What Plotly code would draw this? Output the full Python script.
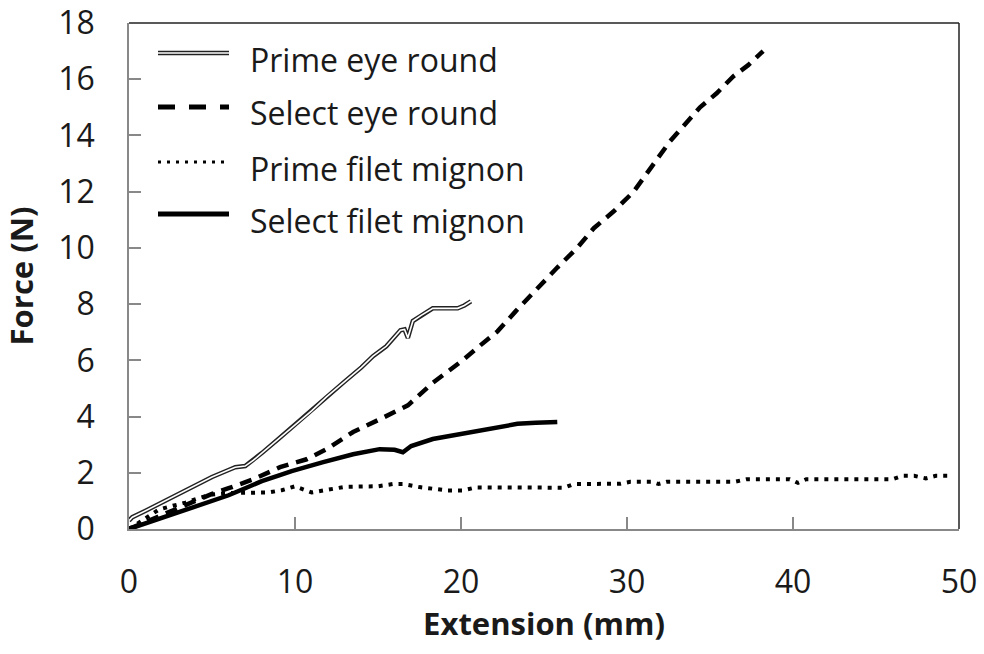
import plotly.graph_objects as go

# ---------------- data ----------------
prime_eye_x = [0, 0.2, 1, 2, 3, 4, 5, 6, 6.4, 7.0, 7.5, 8, 9, 9.9, 11, 11.9, 13, 14, 14.7,
               15.5, 16.35, 16.6, 16.8, 17.1, 17.6, 18.3, 19.8, 20.2, 20.6]
prime_eye_y = [0.3, 0.42, 0.65, 0.95, 1.25, 1.55, 1.85, 2.1, 2.2, 2.24, 2.45, 2.7, 3.2, 3.67,
               4.2, 4.7, 5.25, 5.75, 6.15, 6.5, 7.07, 7.1, 6.8, 7.4, 7.6, 7.85, 7.85, 7.95, 8.1]

select_eye_x = [0, 1, 2, 3, 4, 5, 6, 7.5, 9.1, 10.7, 11.9, 13.5, 15.1, 16.8, 18.3, 20.1, 21.2,
                22.2, 23.3, 24.5, 25.8, 27, 28, 29.2, 30.4, 31.5, 32.6, 33.5, 34.4, 35.4,
                36.4, 37.3, 38.2]
select_eye_y = [0, 0.25, 0.5, 0.75, 1.0, 1.25, 1.45, 1.77, 2.2, 2.48, 2.84, 3.45, 3.9, 4.4,
                5.2, 6.0, 6.55, 7.03, 7.75, 8.5, 9.3, 10.0, 10.7, 11.3, 12.0, 12.9, 13.8,
                14.4, 15.0, 15.5, 16.1, 16.5, 17.0]

prime_filet_x = [0, 1, 1.8, 2.6, 3.4, 4.2, 5, 6, 7.2, 8.4, 9.2, 10.0, 11.0, 12.1, 13, 15,
                 15.9, 16.5, 17.5, 19.2, 20.1, 20.9, 24, 26.2, 26.8, 29.6, 30.2, 31.5, 31.9,
                 32.4, 36.5, 37.2, 39.8, 40.3, 40.8, 46, 46.6, 47.3, 48, 48.6, 49.6]
prime_filet_y = [0, 0.4, 0.69, 0.82, 0.94, 1.1, 1.23, 1.28, 1.3, 1.3, 1.38, 1.52, 1.3, 1.4,
                 1.5, 1.52, 1.6, 1.6, 1.49, 1.37, 1.37, 1.48, 1.48, 1.47, 1.6, 1.61, 1.68,
                 1.68, 1.6, 1.68, 1.68, 1.77, 1.77, 1.64, 1.77, 1.77, 1.89, 1.89, 1.8, 1.89,
                 1.89]

select_filet_x = [0, 1, 2, 3, 4, 5, 6, 7, 8, 9, 9.8, 11.7, 13.5, 15.1, 16.0, 16.5, 17.0,
                  18.3, 19.3, 20.4, 21.5, 22.6, 23.4, 24.5, 25.8]
select_filet_y = [0, 0.2, 0.4, 0.6, 0.8, 1.0, 1.2, 1.45, 1.7, 1.9, 2.06, 2.38, 2.66, 2.84,
                  2.82, 2.73, 2.95, 3.2, 3.3, 3.45, 3.55, 3.63, 3.74, 3.78, 3.81]

series_names = ["Prime eye round", "Select eye round", "Prime filet mignon", "Select filet mignon"]
x_ticks = [0, 10, 20, 30, 40, 50]
y_ticks = [0, 2, 4, 6, 8, 10, 12, 14, 16, 18]

FONT = "Open Sans"
TXT = "#1a1a1a"

fig = go.Figure()
# Prime eye round: double line (dark outer + white core)
fig.add_trace(go.Scatter(x=prime_eye_x, y=prime_eye_y, mode="lines",
                         line=dict(color="#222", width=4.5), showlegend=False, hoverinfo="skip"))
fig.add_trace(go.Scatter(x=prime_eye_x, y=prime_eye_y, mode="lines", name=series_names[0],
                         line=dict(color="white", width=1.6), showlegend=False))
fig.add_trace(go.Scatter(x=select_eye_x, y=select_eye_y, mode="lines", name=series_names[1],
                         line=dict(color="black", width=4.5, dash="12px,8px"), showlegend=False))
fig.add_trace(go.Scatter(x=prime_filet_x, y=prime_filet_y, mode="lines", name=series_names[2],
                         line=dict(color="black", width=4, dash="4px,6px"), showlegend=False))
fig.add_trace(go.Scatter(x=select_filet_x, y=select_filet_y, mode="lines", name=series_names[3],
                         line=dict(color="black", width=4.5), showlegend=False))

W, H = 984, 654
L, R, T, B = 129, 25, 23, 125
pw, ph = W - L - R, H - T - B


def px(xp):
    return (xp - L) / pw


def py(yp):
    return (H - B - yp) / ph


# manual legend
rows_y = [53, 107, 162, 214]
sx0, sx1, tx = 158, 229, 248
styles = [
    [dict(color="#222", width=4.5), dict(color="white", width=1.6)],
    [dict(color="black", width=5, dash="17px,14px")],
    [dict(color="black", width=3, dash="3px,6px")],
    [dict(color="black", width=5)],
]
shapes = []
annotations = []
for name, ry, sty in zip(series_names, rows_y, styles):
    for s in sty:
        shapes.append(dict(type="line", xref="paper", yref="paper",
                           x0=px(sx0), x1=px(sx1), y0=py(ry), y1=py(ry), line=s))
    annotations.append(dict(xref="paper", yref="paper", x=px(tx), y=py(ry + 6),
                            xanchor="left", yanchor="middle", text=name, showarrow=False,
                            font=dict(family=FONT, size=32, color=TXT)))

# top and right frame lines
shapes.append(dict(type="line", xref="paper", yref="paper", x0=0, x1=1, y0=1, y1=1,
                   line=dict(color="#222", width=1.5)))
shapes.append(dict(type="line", xref="paper", yref="paper", x0=1, x1=1, y0=0, y1=1,
                   line=dict(color="#222", width=1.5)))

fig.update_layout(
    width=W, height=H,
    margin=dict(l=L, r=R, t=T, b=B),
    paper_bgcolor="white", plot_bgcolor="white",
    shapes=shapes, annotations=annotations,
    font=dict(family=FONT, color=TXT),
    xaxis=dict(range=[0, 50], tickvals=x_ticks, ticks="inside", ticklen=12, tickwidth=1.5,
               tickcolor="#888", showline=True, linecolor="#888", linewidth=1.5,
               showgrid=False, zeroline=False, tickfont=dict(size=32, family=FONT),
               ticklabelstandoff=24, automargin=False,
               title=dict(text="<b>Extension (mm)</b>", font=dict(size=31, family=FONT),
                          standoff=12)),
    yaxis=dict(range=[0, 18], tickvals=y_ticks, ticks="inside", ticklen=12, tickwidth=1.5,
               tickcolor="#888", showline=True, linecolor="#888", linewidth=1.5,
               showgrid=False, zeroline=False, tickfont=dict(size=32, family=FONT),
               ticklabelstandoff=26, automargin=False,
               title=dict(text="<b>Force (N)</b>", font=dict(size=31, family=FONT),
                          standoff=16)),
)

fig.write_html("out.html")
